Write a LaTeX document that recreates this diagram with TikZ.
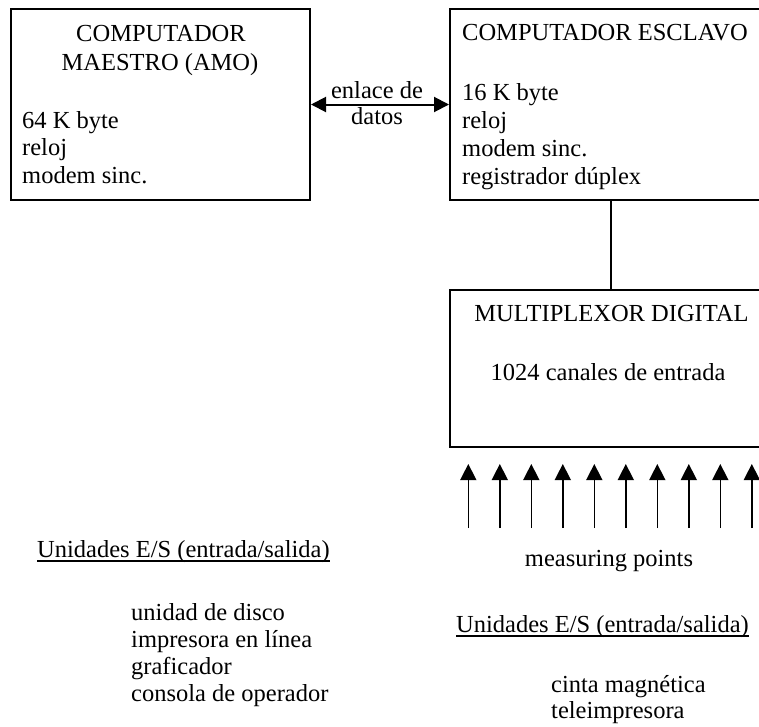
\documentclass[tikz,border=0pt]{standalone}
\usepackage{fontspec}
\setmainfont{Liberation Serif}
\usetikzlibrary{arrows.meta}
\tikzset{>={Triangle[length=15pt,width=15pt]}}
\tikzset{
  box/.style={draw, line width=2pt, inner sep=0pt},
  txt/.style={inner sep=0pt, font=\fontsize{24.5}{27}\selectfont},
  link/.style={<->, line width=2pt},
  meas/.style={-{Triangle[length=16pt,width=16pt]}, line width=1.5pt, shorten >=16pt}
}

\begin{document}
\begin{tikzpicture}[x=1pt, y=-1pt]
\clip (0,0) rectangle (759,726);
% boxes
\node[box, minimum width=299pt, minimum height=191pt] (maestro) at (160.5,104.5) {};
\node[box, minimum width=322pt, minimum height=191pt] (esclavo) at (611,104.5) {};
\node[box, minimum width=322pt, minimum height=157pt] (mux) at (611,368.5) {};

% computador maestro
\node[txt, anchor=base] (m1) at (161,41) {COMPUTADOR};
\node[txt, anchor=base] (m2) at (160,70) {MAESTRO (AMO)};
\node[txt, anchor=base west] (m3) at (22,128) {64 K byte};
\node[txt, anchor=base west] (m4) at (22,155.5) {reloj};
\node[txt, anchor=base west] (m5) at (22,183) {modem sinc.};

% computador esclavo
\node[txt, anchor=base west] (e1) at (462,40) {COMPUTADOR ESCLAVO};
\node[txt, anchor=base west] (e2) at (462,100) {16 K byte};
\node[txt, anchor=base west] (e3) at (462,128) {reloj};
\node[txt, anchor=base west] (e4) at (462,156) {modem sinc.};
\node[txt, anchor=base west] (e5) at (462,184) {registrador dúplex};

% enlace
\draw[link] (maestro) -- (esclavo);
\node[txt, anchor=base] (l1) at (377,98) {enlace de};
\node[txt, anchor=base] (l2) at (377,124) {datos};

% multiplexor
\draw[line width=1.5pt] (esclavo) -- (mux);
\node[txt, anchor=base] (x1) at (611.5,321) {MULTIPLEXOR DIGITAL};
\node[txt, anchor=base] (x2) at (608,380) {1024 canales de entrada};

% measuring points
\foreach \i in {0,...,9}{
  \coordinate (p\i) at ({468.3+31.5*\i},528);
  \draw[meas] (p\i) -- (p\i |- mux.south);
}
\node[txt, anchor=base] (mp) at (609,566) {measuring points};

% unidades E/S
\node[txt, anchor=base west] (ua) at (37,557) {Unidades E/S (entrada/salida)};
\draw[line width=1.5pt] ([yshift=-4pt]ua.base west) -- ([yshift=-4pt]ua.base east);
\node[txt, anchor=base west] (ua1) at (131,620) {unidad de disco};
\node[txt, anchor=base west] (ua2) at (131,647) {impresora en línea};
\node[txt, anchor=base west] (ua3) at (131,674) {graficador};
\node[txt, anchor=base west] (ua4) at (131,701) {consola de operador};

\node[txt, anchor=base west] (ub) at (456,632) {Unidades E/S (entrada/salida)};
\draw[line width=1.5pt] ([yshift=-4pt]ub.base west) -- ([yshift=-4pt]ub.base east);
\node[txt, anchor=base west] (ub1) at (551,692) {cinta magnética};
\node[txt, anchor=base west] (ub2) at (551,718) {teleimpresora};
\end{tikzpicture}
\end{document}
